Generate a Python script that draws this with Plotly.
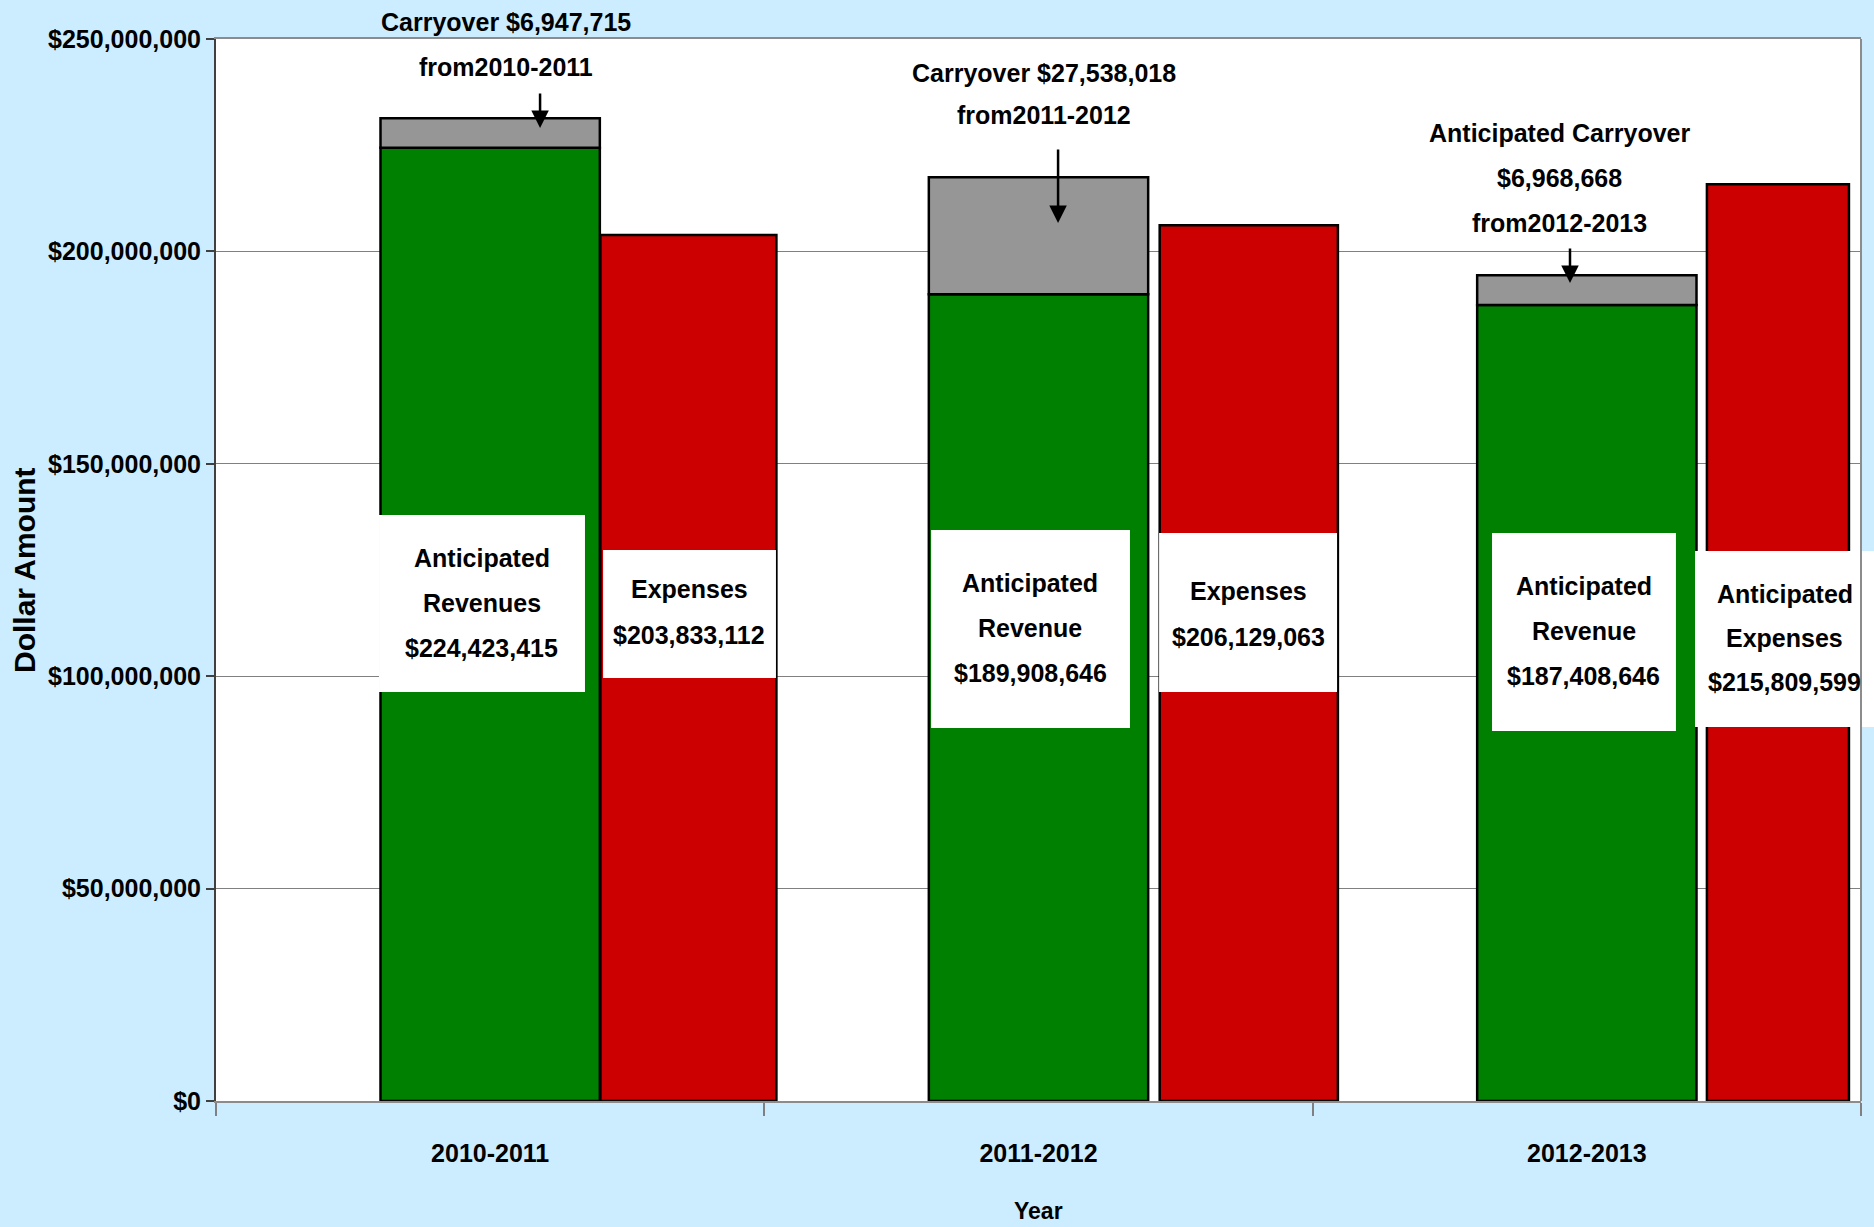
import plotly.graph_objects as go

# ---- data -------------------------------------------------------------
years = ["2010-2011", "2011-2012", "2012-2013"]
revenue = [224423415, 189908646, 187408646]
carryover = [6947715, 27538018, 6968668]
expenses = [203833112, 206129063, 215809599]

revenue_titles = [["Anticipated", "Revenues"], ["Anticipated", "Revenue"], ["Anticipated", "Revenue"]]
expense_titles = [["Expenses"], ["Expenses"], ["Anticipated", "Expenses"]]
carry_titles = [
    ["Carryover $6,947,715", "from2010-2011"],
    ["Carryover $27,538,018", "from2011-2012"],
    ["Anticipated Carryover", "$6,968,668", "from2012-2013"],
]
y_ticks = [0, 50000000, 100000000, 150000000, 200000000, 250000000]

# ---- styling ----------------------------------------------------------
SANS = "Liberation Sans, Arial, sans-serif"
BG = "#CCECFF"
GREEN = "#008000"
RED = "#CC0000"
GRAY = "#969696"
TXT = 25

fig = go.Figure()
outline = dict(color="#000000", width=2.5)

fig.add_trace(go.Bar(x=years, y=revenue, offset=-0.2, width=0.4,
                     marker=dict(color=GREEN, line=outline), name="Revenue"))
fig.add_trace(go.Bar(x=years, y=carryover, base=revenue, offset=-0.2, width=0.4,
                     marker=dict(color=GRAY, line=outline), name="Carryover"))
fig.add_trace(go.Bar(x=years, y=expenses, offset=[0.201, 0.221, 0.219],
                     width=[0.321, 0.325, 0.259],
                     marker=dict(color=RED, line=outline), name="Expenses"))

shapes = []
annotations = []


def text_block(lines, x, y, spacing, size=TXT):
    """Stack lines of text around (x, y) in paper coordinates."""
    n = len(lines)
    for i, line in enumerate(lines):
        annotations.append(dict(
            text=line, x=x, y=y, xref="paper", yref="paper",
            xanchor="center", yanchor="middle", showarrow=False,
            yshift=-(i - (n - 1) / 2) * spacing,
            font=dict(family=SANS, size=size, color="#000000", weight="bold"),
        ))


# white label boxes sitting inside the bars: (x0, x1, y0, y1) in paper units
rev_boxes = [(0.0991, 0.2243, 0.3851, 0.5518),
             (0.4347, 0.5556, 0.3512, 0.5377),
             (0.7757, 0.8875, 0.3484, 0.5348)]
exp_boxes = [(0.2353, 0.3404, 0.3983, 0.5188),
             (0.5733, 0.6815, 0.3851, 0.5348),
             (0.8991, 1.0079, 0.3522, 0.5179)]
rev_centers = [(0.1617, 0.4685), (0.4951, 0.4454), (0.8316, 0.4426)]
exp_centers = [(0.2878, 0.4609), (0.6274, 0.4590), (0.9535, 0.4355)]

for i in range(len(years)):
    for (x0, x1, y0, y1) in (rev_boxes[i], exp_boxes[i]):
        shapes.append(dict(type="rect", xref="paper", yref="paper",
                           x0=x0, x1=x1, y0=y0, y1=y1,
                           fillcolor="#FFFFFF", line=dict(width=0), layer="above"))
    rx, ry = rev_centers[i]
    text_block(revenue_titles[i] + [f"${revenue[i]:,}"], rx, ry, 45)
    ex, ey = exp_centers[i]
    text_block(expense_titles[i] + [f"${expenses[i]:,}"], ex, ey, 46 if len(expense_titles[i]) == 1 else 44)

# carryover call-outs above the revenue bars
carry_centers = [(0.1763, 0.995, 45.5), (0.5033, 0.948, 42), (0.8170, 0.869, 45)]
for lines, (cx, cy, sp) in zip(carry_titles, carry_centers):
    text_block(lines, cx, cy, sp)

# arrows pointing into the carryover segments: tip (x, y) in paper, tail offset in px
arrows = [(0.1970, 0.9162, -36), (0.5119, 0.8267, -75), (0.8231, 0.7702, -36)]
for ax_, ay_, dy in arrows:
    annotations.append(dict(
        x=ax_, y=ay_, xref="paper", yref="paper", text="", showarrow=True,
        ax=0, ay=dy, arrowhead=2, arrowsize=1.4, arrowwidth=2.5, arrowcolor="#000000",
    ))

# axis titles
annotations.append(dict(text="Dollar Amount", x=-0.1167, y=0.5, xref="paper", yref="paper",
                        textangle=-90, showarrow=False, xanchor="center", yanchor="middle",
                        font=dict(family=SANS, size=30, color="#000000", weight="bold")))
annotations.append(dict(text="Year", x=0.5, y=-0.1036, xref="paper", yref="paper",
                        showarrow=False, xanchor="center", yanchor="middle",
                        font=dict(family=SANS, size=23, color="#000000", weight="bold")))

# right-hand plot border
shapes.append(dict(type="line", xref="paper", yref="paper", x0=1, x1=1, y0=0, y1=1,
                   line=dict(color="#8C8C8C", width=2)))

fig.update_layout(
    width=1874, height=1227,
    margin=dict(l=216, r=13, t=39, b=126),
    paper_bgcolor=BG, plot_bgcolor="#FFFFFF",
    barmode="overlay", showlegend=False,
    shapes=shapes, annotations=annotations,
    xaxis=dict(type="category", range=[-0.5, 2.5], tickson="boundaries",
               ticks="outside", ticklen=13, tickcolor="#808080", tickwidth=1.5,
               showgrid=False, showline=True, linecolor="#8C8C8C", linewidth=2, mirror=True,
               ticklabelstandoff=29,
               tickfont=dict(family=SANS, size=TXT, color="#000000", weight="bold")),
    yaxis=dict(range=[0, 250000000], tickvals=y_ticks, tickformat="$,.0f",
               ticks="outside", ticklen=8, tickcolor="#404040", tickwidth=1.5,
               showgrid=True, gridcolor="#808080", gridwidth=1.2, zeroline=False,
               showline=True, linecolor="#404040", linewidth=2,
               tickfont=dict(family=SANS, size=TXT, color="#000000", weight="bold")),
)

fig.write_html("out.html")
